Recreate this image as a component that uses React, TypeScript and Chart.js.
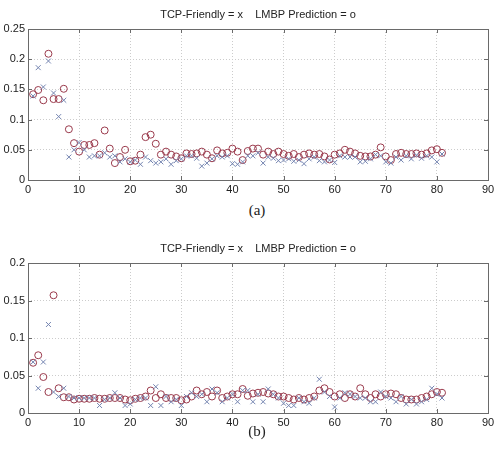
import React, { useEffect, useRef } from "react";
import { Chart, registerables } from "chart.js";

Chart.register(...registerables);

const INDEX: number[] = Array.from({ length: 81 }, (_, i) => i + 1);

const topLMBP = [
  0.142, 0.149, 0.132, 0.209, 0.134, 0.134, 0.151, 0.084, 0.061, 0.047,
  0.058, 0.058, 0.061, 0.042, 0.082, 0.052, 0.028, 0.038, 0.05, 0.031,
  0.032, 0.042, 0.071, 0.075, 0.06, 0.042, 0.047, 0.042, 0.039, 0.036,
  0.044, 0.043, 0.044, 0.047, 0.042, 0.036, 0.049, 0.044, 0.045, 0.052,
  0.047, 0.033, 0.048, 0.052, 0.052, 0.042, 0.047, 0.043, 0.047, 0.043,
  0.04, 0.043, 0.038, 0.042, 0.044, 0.042, 0.043, 0.039, 0.034, 0.042,
  0.044, 0.05, 0.047, 0.044, 0.04, 0.039, 0.039, 0.042, 0.054, 0.039,
  0.033, 0.043, 0.045, 0.043, 0.043, 0.044, 0.042, 0.044, 0.049, 0.051, 0.045,
];
const topTCP = [
  0.139, 0.186, 0.154, 0.197, 0.144, 0.105, 0.132, 0.038, 0.05, 0.062,
  0.05, 0.038, 0.04, 0.04, 0.045, 0.038, 0.04, 0.03, 0.035, 0.03,
  0.033, 0.026, 0.038, 0.032, 0.028, 0.03, 0.035, 0.026, 0.032, 0.035,
  0.04, 0.04, 0.036, 0.023, 0.028, 0.035, 0.04, 0.038, 0.04, 0.027,
  0.026, 0.03, 0.04, 0.04, 0.045, 0.028, 0.038, 0.036, 0.032, 0.033,
  0.035, 0.031, 0.033, 0.027, 0.035, 0.038, 0.032, 0.03, 0.033, 0.029,
  0.04, 0.038, 0.038, 0.038, 0.03, 0.031, 0.035, 0.042, 0.04, 0.03,
  0.028, 0.038, 0.033, 0.04, 0.035, 0.041, 0.036, 0.04, 0.038, 0.03, 0.043,
];
const botLMBP = [
  0.067, 0.077, 0.048, 0.028, 0.157, 0.033, 0.021, 0.021, 0.018, 0.019,
  0.019, 0.019, 0.02, 0.019, 0.019, 0.02, 0.02, 0.02, 0.018, 0.017,
  0.019, 0.02, 0.022, 0.03, 0.02, 0.025, 0.02, 0.02, 0.02, 0.017,
  0.018, 0.022, 0.03, 0.025, 0.028, 0.022, 0.03, 0.02, 0.022, 0.025,
  0.025, 0.032, 0.023, 0.026, 0.027, 0.028, 0.026, 0.025, 0.022, 0.022,
  0.02, 0.018, 0.02, 0.018, 0.02, 0.022, 0.03, 0.033, 0.028, 0.022,
  0.025, 0.02, 0.025, 0.022, 0.033, 0.025, 0.02, 0.025, 0.022, 0.025,
  0.026, 0.025, 0.02, 0.018, 0.018, 0.018, 0.02, 0.022, 0.025, 0.028, 0.027,
];
const botTCP = [
  0.068, 0.033, 0.068, 0.118, 0.028, 0.022, 0.033, 0.022, 0.02, 0.02,
  0.02, 0.02, 0.02, 0.01, 0.018, 0.02, 0.027, 0.02, 0.01, 0.012,
  0.018, 0.02, 0.02, 0.01, 0.035, 0.01, 0.022, 0.015, 0.018, 0.01,
  0.022, 0.027, 0.022, 0.025, 0.015, 0.032, 0.027, 0.015, 0.02, 0.025,
  0.015, 0.03, 0.03, 0.015, 0.025, 0.015, 0.032, 0.025, 0.02, 0.013,
  0.01, 0.01, 0.02, 0.015, 0.013, 0.02, 0.045, 0.028, 0.022, 0.008,
  0.02, 0.027, 0.025, 0.022, 0.02, 0.02, 0.015, 0.015, 0.028, 0.022,
  0.02, 0.015, 0.022, 0.012, 0.018, 0.012, 0.015, 0.018, 0.033, 0.025, 0.02,
];

const TITLE = "TCP-Friendly = x    LMBP Prediction = o";
const X_MAX = 90;
const X_STEP = 10;
const Y_STEP = 0.05;

const LMBP_COLOR = "#9a3a4c";
const TCP_COLOR = "#7484b0";

const framePlugin = {
  id: "frame",
  afterDraw(chart: any) {
    const { ctx, chartArea: a, scales } = chart;
    ctx.save();
    ctx.strokeStyle = "#6a6a6a";
    ctx.lineWidth = 1;
    ctx.strokeRect(Math.round(a.left) + 0.5, Math.round(a.top) + 0.5, Math.round(a.right - a.left), Math.round(a.bottom - a.top));
    ctx.beginPath();
    const tl = 4;
    scales.x.ticks.forEach((t: any) => {
      const px = Math.round(scales.x.getPixelForValue(t.value)) + 0.5;
      ctx.moveTo(px, a.bottom);
      ctx.lineTo(px, a.bottom - tl);
      ctx.moveTo(px, a.top);
      ctx.lineTo(px, a.top + tl);
    });
    scales.y.ticks.forEach((t: any) => {
      const py = Math.round(scales.y.getPixelForValue(t.value)) + 0.5;
      ctx.moveTo(a.left, py);
      ctx.lineTo(a.left + tl, py);
      ctx.moveTo(a.right, py);
      ctx.lineTo(a.right - tl, py);
    });
    ctx.stroke();
    ctx.fillStyle = "#222";
    ctx.font = '11px "Liberation Sans", Arial, sans-serif';
    ctx.textAlign = "center";
    ctx.textBaseline = "middle";
    ctx.fillText(TITLE, (a.left + a.right) / 2, a.top - 14);
    ctx.restore();
  },
};

type PanelProps = { lmbp: number[]; tcp: number[]; yMax: number; height: number; padTop: number };

function Panel({ lmbp, tcp, yMax, height, padTop }: PanelProps) {
  const ref = useRef<HTMLCanvasElement | null>(null);
  useEffect(() => {
    if (!ref.current) return;
    const tickFont = { family: '"Liberation Sans", Arial, sans-serif', size: 11 };
    const chart = new Chart(ref.current, {
      type: "scatter",
      data: {
        datasets: [
          {
            label: "TCP-Friendly",
            data: INDEX.map((x, i) => ({ x, y: tcp[i] })),
            pointStyle: "crossRot",
            pointRadius: 3.5,
            borderColor: TCP_COLOR,
            borderWidth: 1,
            backgroundColor: TCP_COLOR,
          },
          {
            label: "LMBP Prediction",
            data: INDEX.map((x, i) => ({ x, y: lmbp[i] })),
            pointStyle: "circle",
            pointRadius: 3.5,
            borderColor: LMBP_COLOR,
            borderWidth: 1,
            backgroundColor: "rgba(0,0,0,0)",
          },
        ],
      },
      options: {
        animation: false,
        responsive: false,
        layout: { padding: { top: padTop, right: 10, left: 0, bottom: 0 } },
        plugins: { legend: { display: false }, tooltip: { enabled: false }, title: { display: false } },
        scales: {
          x: {
            type: "linear",
            min: 0,
            max: X_MAX,
            ticks: { stepSize: X_STEP, color: "#222", font: tickFont, padding: 3, maxRotation: 0 },
            grid: { color: "#cccccc", drawTicks: false },
            border: { display: false, dash: [1, 2] },
            afterFit: (s: any) => { s.height = 20; },
          },
          y: {
            type: "linear",
            min: 0,
            max: yMax,
            ticks: {
              stepSize: Y_STEP,
              color: "#222",
              font: tickFont,
              padding: 3,
              callback: (v: any) => String(+Number(v).toFixed(3)),
            },
            grid: { color: "#cccccc", drawTicks: false },
            border: { display: false, dash: [1, 2] },
            afterFit: (s: any) => { s.width = 28; },
          },
        },
      },
      plugins: [framePlugin],
    } as any);
    return () => chart.destroy();
  }, [lmbp, tcp, yMax, height, padTop]);
  return <canvas ref={ref} width={498} height={height} style={{ display: "block", width: 498, height }} />;
}

const capStyle: React.CSSProperties = {
  position: "absolute",
  left: 0,
  width: 514,
  textAlign: "center",
  fontFamily: '"Liberation Serif", "DejaVu Serif", serif',
  fontSize: 15,
  color: "#222",
  lineHeight: "16px",
};

export default function App() {
  return (
    <div style={{ position: "absolute", left: 0, top: 0, width: 498, height: 450, background: "#fff", overflow: "hidden" }}>
      <div style={{ position: "absolute", left: 0, top: 0 }}>
        <Panel lmbp={topLMBP} tcp={topTCP} yMax={0.25} height={200} padTop={29} />
      </div>
      <div style={{ ...capStyle, top: 202 }}>(a)</div>
      <div style={{ position: "absolute", left: 0, top: 220 }}>
        <Panel lmbp={botLMBP} tcp={botTCP} yMax={0.2} height={213} padTop={43} />
      </div>
      <div style={{ ...capStyle, top: 423 }}>(b)</div>
    </div>
  );
}
